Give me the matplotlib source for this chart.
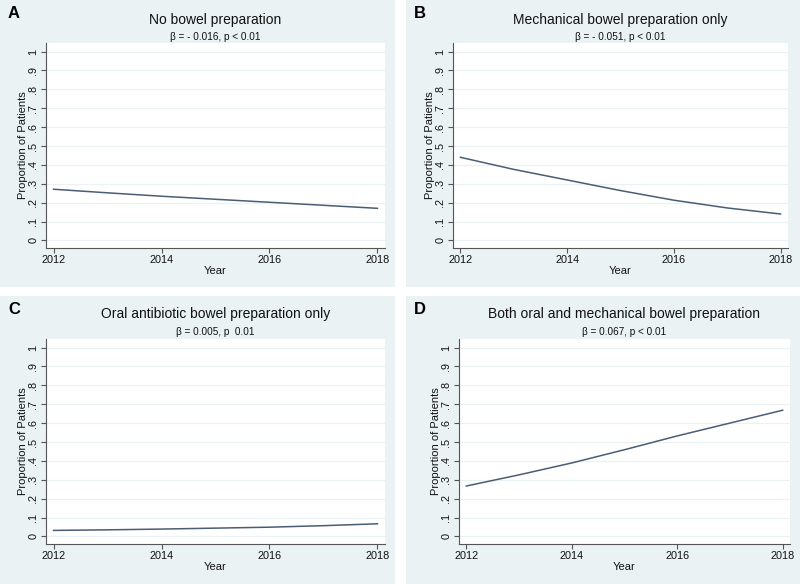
import matplotlib
matplotlib.use('Agg')
from matplotlib import pyplot as plt
from matplotlib.patches import Rectangle

plt.rcParams['font.family'] = ['Liberation Sans', 'DejaVu Sans']

years = [2012, 2013, 2014, 2015, 2016, 2017, 2018]

no_prep = [0.271, 0.252, 0.234, 0.218, 0.202, 0.186, 0.170]
mech_only = [0.440, 0.376, 0.320, 0.264, 0.213, 0.172, 0.140]
oral_only = [0.032, 0.035, 0.039, 0.044, 0.049, 0.057, 0.067]
both = [0.267, 0.326, 0.389, 0.459, 0.532, 0.600, 0.668]

titles = ['No bowel preparation', 'Mechanical bowel preparation only',
          'Oral antibiotic bowel preparation only', 'Both oral and mechanical bowel preparation']
subtitles = ['\u03b2 = - 0.016, p < 0.01', '\u03b2 = - 0.051, p < 0.01',
             '\u03b2 = 0.005, p  0.01', '\u03b2 = 0.067, p < 0.01']
letters = ['A', 'B', 'C', 'D']
series = [no_prep, mech_only, oral_only, both]

yticks = [i / 10 for i in range(11)]
ytick_labels = ['0', '.1', '.2', '.3', '.4', '.5', '.6', '.7', '.8', '.9', '1']
xticks = [2012, 2014, 2016, 2018]

W, H = 800, 584
bg = '#eaf2f3'
line_color = '#4a5d74'

fig = plt.figure(figsize=(8, 5.84), dpi=100)
fig.patch.set_facecolor('white')

# panel backgrounds in pixels (x0, y0, x1, y1), y from top
panels = [(0, 0, 395, 287), (406, 0, 800, 287), (0, 296, 395, 584), (406, 296, 800, 584)]
# plot regions in pixels
plots = [(46, 43, 385, 248), (453, 43, 788, 248), (46, 339, 385, 544), (459, 339, 790, 544)]
# title / subtitle heights
title_y = [20, 20, 314, 314]
sub_y = [37, 37, 332, 332]

def px(x0, y0, x1, y1):
    return [x0 / W, 1 - y1 / H, (x1 - x0) / W, (y1 - y0) / H]

for i in range(4):
    x0, y0, x1, y1 = panels[i]
    fig.patches.append(Rectangle((x0 / W, 1 - y1 / H), (x1 - x0) / W, (y1 - y0) / H,
                                 transform=fig.transFigure, facecolor=bg, edgecolor='none', zorder=-5))

    ax = fig.add_axes(px(*plots[i]))
    ax.set_facecolor('white')
    ax.plot(years, series[i], color=line_color, linewidth=1.1)

    ax.set_xlim(2011.86, 2018.14)
    ax.set_ylim(-0.04, 1.045)
    ax.set_yticks(yticks)
    ax.set_yticklabels(ytick_labels, rotation=90, va='center')
    ax.set_xticks(xticks)
    ax.grid(axis='y', color=bg, linewidth=0.9)
    ax.set_axisbelow(True)

    for s in ['top', 'right']:
        ax.spines[s].set_visible(False)
    for s in ['left', 'bottom']:
        ax.spines[s].set_color('#555555')
        ax.spines[s].set_linewidth(0.8)
    ax.tick_params(axis='both', labelsize=7.8, color='#555555', length=3.5, width=0.8,
                   pad=2, labelcolor='#111111')
    ax.tick_params(axis='x', pad=1.5)

    ax.set_xlabel('Year', fontsize=8, labelpad=0.5, color='#111111')
    ax.set_ylabel('Proportion of Patients', fontsize=8, labelpad=0.5, color='#111111')

    cx = (plots[i][0] + plots[i][2]) / 2 / W
    fig.text(cx, 1 - title_y[i] / H, titles[i], ha='center', va='center', fontsize=10, color='#111111')
    fig.text(cx, 1 - sub_y[i] / H, subtitles[i], ha='center', va='center',
             fontsize=7.2, color='#111111')
    fig.text((x0 + 8) / W, 1 - (y0 + 14) / H, letters[i], ha='left', va='center',
             fontsize=12, fontweight='bold', color='black')

fig.savefig('out.png', dpi=100)
